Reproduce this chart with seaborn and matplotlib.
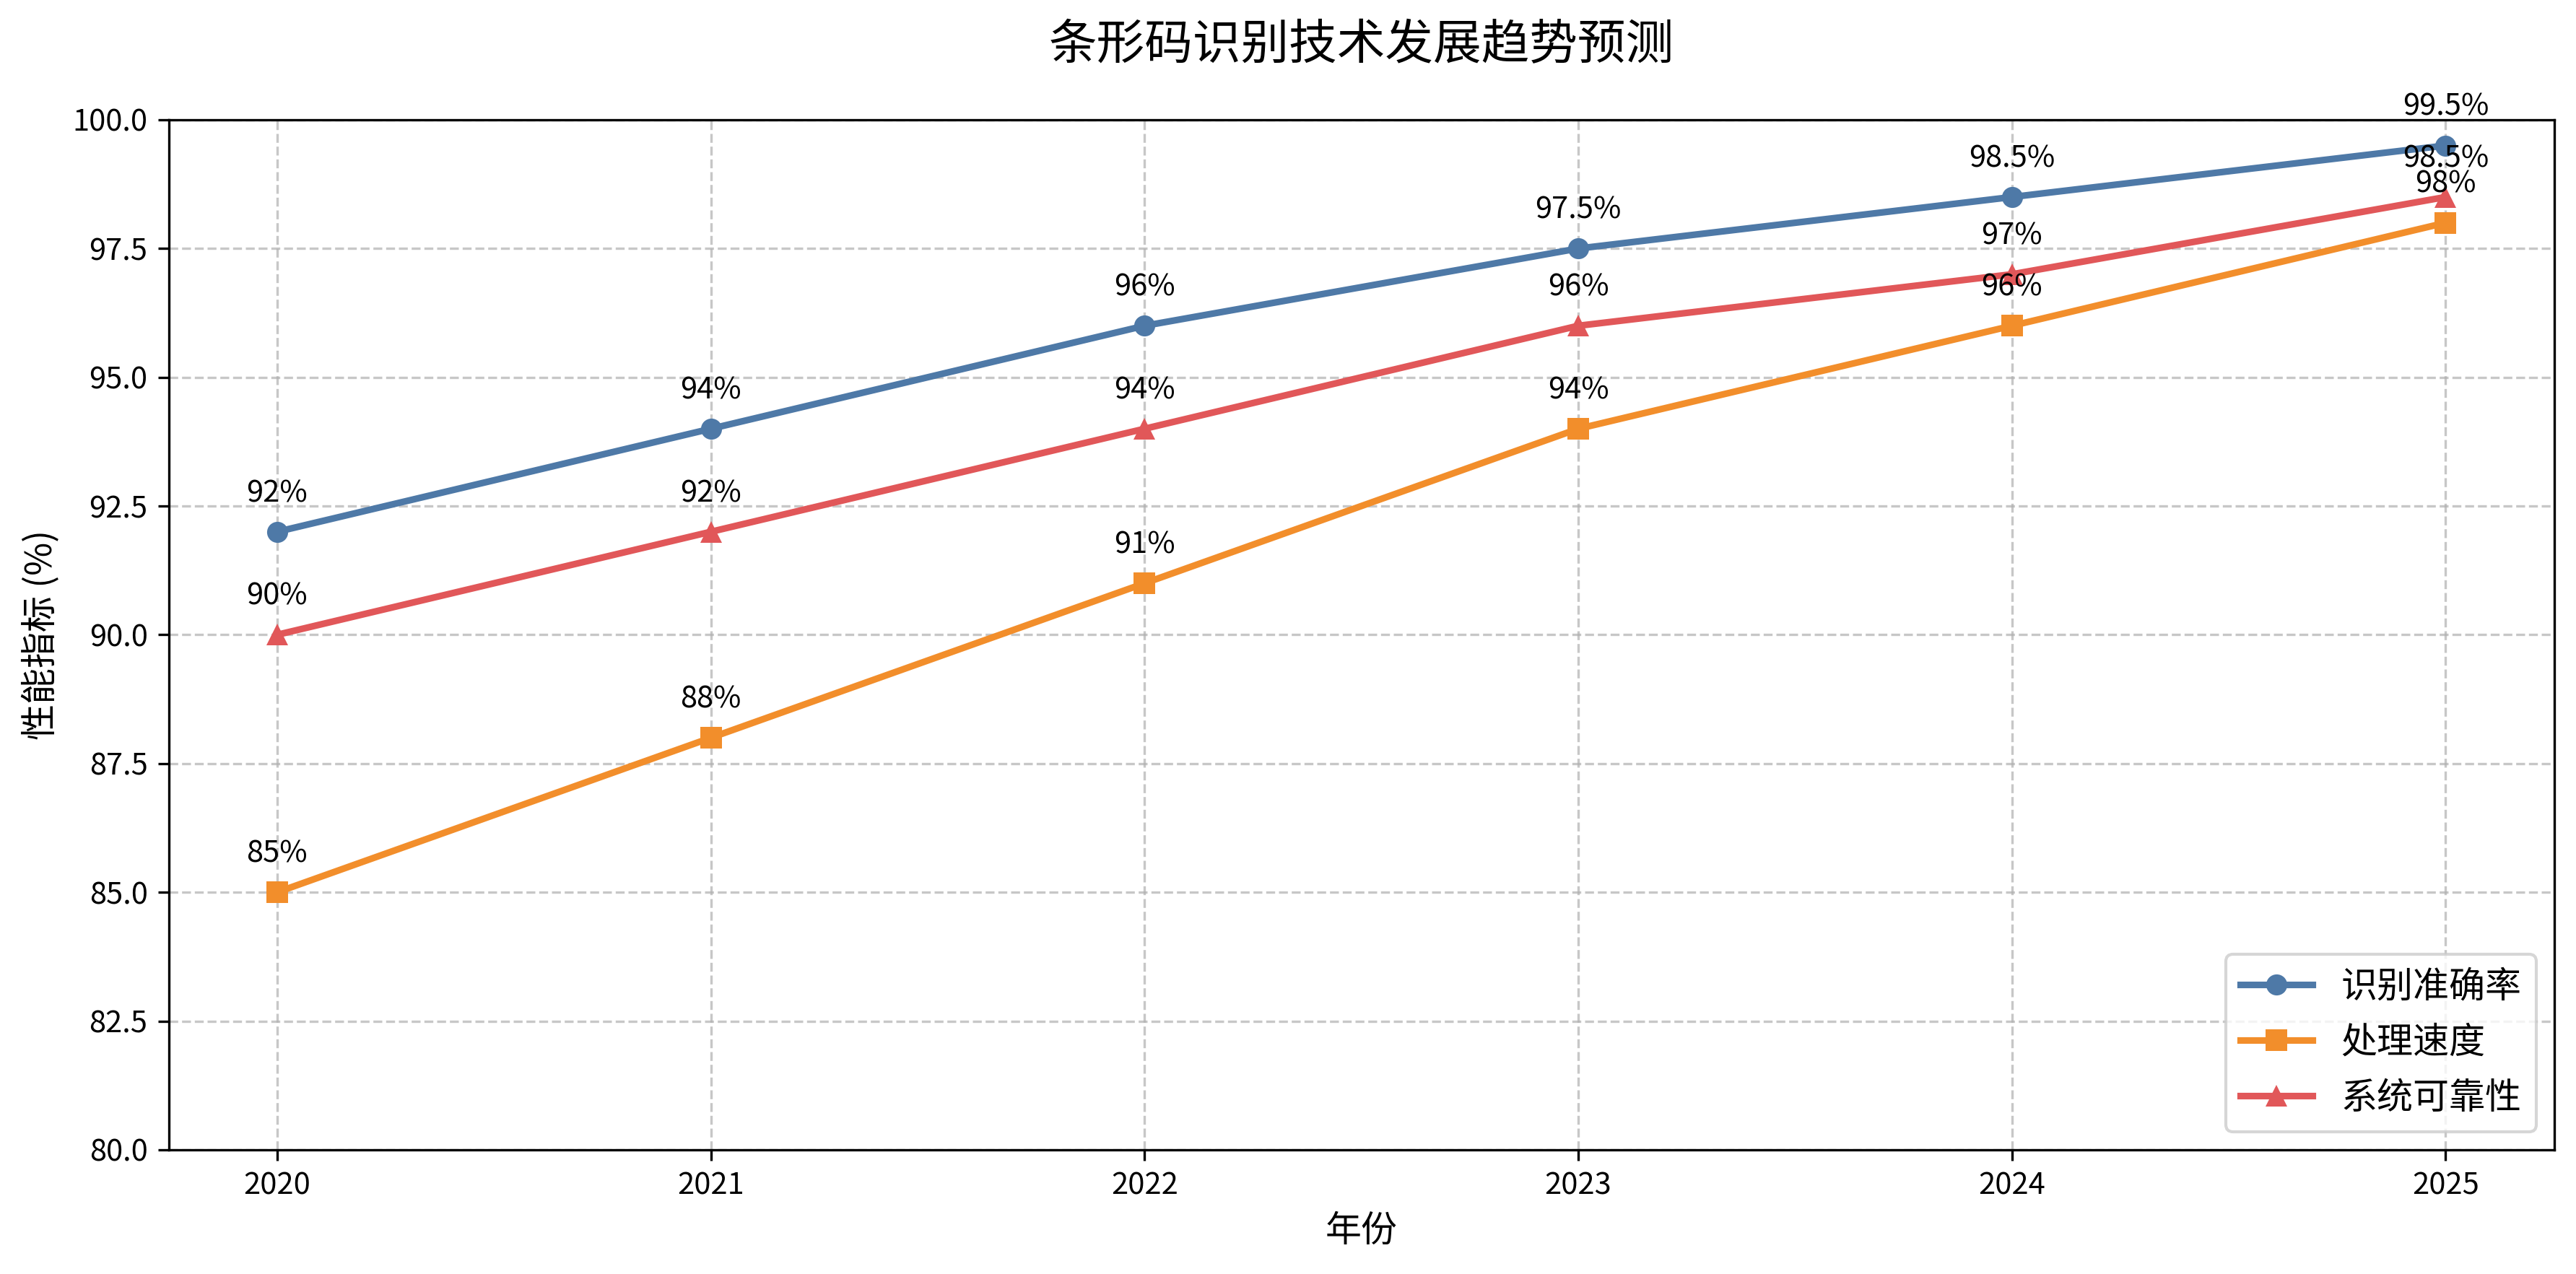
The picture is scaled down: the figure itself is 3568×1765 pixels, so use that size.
import numpy as np
import pandas as pd
import matplotlib
matplotlib.use("Agg")
import matplotlib.pyplot as plt
import seaborn as sns

years = [2020, 2021, 2022, 2023, 2024, 2025]
accuracy = [92, 94, 96, 97.5, 98.5, 99.5]
speed = [85, 88, 91, 94, 96, 98]
reliability = [90, 92, 94, 96, 97, 98.5]

SERIES = ["识别准确率", "处理速度", "系统可靠性"]
COLORS = ["#4e79a7", "#f28e2b", "#e15759"]
MARKERS = ["o", "s", "^"]

plt.rcParams["font.family"] = ["Noto Sans CJK SC", "DejaVu Sans"]
plt.rcParams["axes.unicode_minus"] = False

df = pd.DataFrame({
    "年份": years * 3,
    "值": accuracy + speed + reliability,
    "指标": [SERIES[0]] * 6 + [SERIES[1]] * 6 + [SERIES[2]] * 6,
})

fig, ax = plt.subplots(figsize=(3568 / 300, 1765 / 300), dpi=300)
fig.subplots_adjust(left=0.0655, right=0.9915, top=0.906, bottom=0.0975)

sns.lineplot(data=df, x="年份", y="值", hue="指标", style="指标",
             palette=COLORS, markers=MARKERS, dashes=False,
             linewidth=2.2, markersize=7, markeredgewidth=0, ax=ax)

# 数据标签
for name, vals in zip(SERIES, [accuracy, speed, reliability]):
    for x, y in zip(years, vals):
        ax.annotate(f"{y:g}%", (x, y), textcoords="offset points", xytext=(0, 10),
                    ha="center", fontsize=10)

ax.set_ylim(80, 100)
ax.set_xticks(years)
ax.tick_params(labelsize=10)
ax.grid(True, linestyle="--", alpha=0.7, color="#b0b0b0")
ax.set_xlabel("年份", fontsize=12)
ax.set_ylabel("性能指标 (%)", fontsize=12)
ax.set_title("条形码识别技术发展趋势预测", fontsize=16, pad=20)
ax.legend(loc="lower right", fontsize=12, title=None)

plt.savefig("out.png", dpi=300)
plt.close()
